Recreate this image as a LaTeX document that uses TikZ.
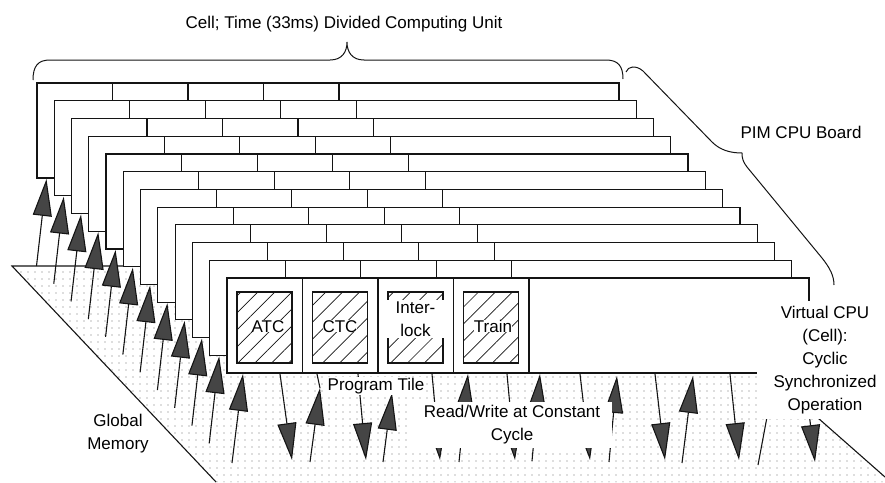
\documentclass[tikz,border=0pt]{standalone}
\usepackage{fontspec}
\setmainfont{Liberation Sans}
\usetikzlibrary{arrows.meta,patterns.meta,calc}
\definecolor{cink}{HTML}{141414}
\definecolor{chead}{HTML}{454545}
\definecolor{cdots}{HTML}{707070}

\begin{document}
\begin{tikzpicture}[x=1pt, y=-1pt,
  lbl/.style={font={\fontsize{17}{23}\selectfont}, inner sep=1pt, align=center},
  vcpu/.style={draw=cink, fill=white, line width=1.2pt},
  sep/.style={draw=cink, line width=1.1pt},
  prog/.style={draw=cink, line width=1.1pt,
    pattern={Lines[angle=45,distance=12pt,line width=0.7pt]}, pattern color=cink},
  io/.style={draw=cink, line width=1.1pt,
    -{Triangle[length=37pt,width=19pt,fill=chead]}},
  brc/.style={draw=cink, line width=1pt}]

\useasboundingbox (0,0) rectangle (885,482);

% global memory plane
\fill[pattern={Dots[distance=7pt,radius=0.65pt]}, pattern color=cdots]
  (12,266) -- (216,482) -- (885,482) -- (885,477) -- (645,266) -- cycle;
\draw[sep] (123,266) -- (12,266) -- (216,482);
\draw[sep] (818,418) -- (885,477);

% cells, back to front
\foreach \i in {0,...,11} {
  \pgfmathsetmacro\fx{37+17.27*\i}
  \pgfmathsetmacro\fy{83+17.73*\i}
  \draw[vcpu] (\fx,\fy) rectangle ++(582,95);
  \foreach \k in {1,...,4}
    \draw[sep] (\fx+75.5*\k,\fy) -- ++(0,95);
  \coordinate (cpu\i) at (\fx+9.5,\fy+96);
}

% program tiles
\foreach \k in {0,...,3}
  \draw[prog] (237+75.5*\k,292) rectangle ++(55,71);
\node[lbl, anchor=base, fill=white, inner sep=0pt] (atc) at (268,332) {ATC};
\node[lbl, anchor=base, fill=white, inner sep=0pt] (ctc) at (340,332) {CTC};
\node[lbl, fill=white, minimum width=62pt, inner ysep=2pt] (ilock) at (415.5,319) {Inter-\\lock};
\node[lbl, anchor=base, fill=white, inner sep=0pt] (train) at (493,332) {Train};

% read/write from global memory
\foreach \i in {0,...,10}
  \draw[io] ($(cpu\i)+(-10,87)$) -- (cpu\i);
\foreach \tx/\ty/\hx/\hy in {232/463/243/374, 310/462/320/388, 383/462/392/393,
    459/462/468/374, 532/461/540/374, 609/462/617/376, 682/463/693/376}
  \draw[io] (\tx,\ty) -- (\hx,\hy);
\draw[sep] (320,388) -- (317,374);
\foreach \tx/\ty/\hx/\hy in {280/374/292/460, 358/374/366/460, 432/374/440/460,
    507/374/515/460, 580/374/590/460, 655/374/665/460, 730/374/739/460, 805/380/815/462}
  \draw[io] (\tx,\ty) -- (\hx,\hy);
\draw[sep] (758,465) -- (767,417);

% labels
\node[lbl, anchor=base] (unit) at (344,28) {Cell; Time (33ms) Divided Computing Unit};
\node[lbl, anchor=base] (board) at (801,138) {PIM CPU Board};
\node[lbl, anchor=base, fill=white] (tile) at (376,390) {Program Tile};
\node[lbl, fill=white, minimum width=200pt, inner ysep=4pt] (rwc) at (512,425)
  {Read/Write at Constant\\Cycle};
\node[lbl, fill=white, minimum width=136pt, inner ysep=5pt] (vc) at (825,360)
  {Virtual CPU\\(Cell):\\Cyclic\\Synchronized\\Operation};
\node[lbl] (gm) at (118,434) {Global\\Memory};

% braces
\draw[brc] (33,80) .. controls (33,66) and (38,60) .. (50,60) -- (330,60)
  .. controls (342,60) and (347,52) .. (347,42)
  .. controls (347,52) and (352,60) .. (364,60) -- (606,60)
  .. controls (618,60) and (623,66) .. (623,79);
\draw[brc] (626,72) .. controls (628,66) and (636,65) .. (643,71) -- (712,142)
  .. controls (720,150) and (730,153) .. (742,153)
  .. controls (742,158) and (743,162) .. (747,167) -- (822,258)
  .. controls (830,268) and (834,276) .. (834,285);
\end{tikzpicture}
\end{document}
